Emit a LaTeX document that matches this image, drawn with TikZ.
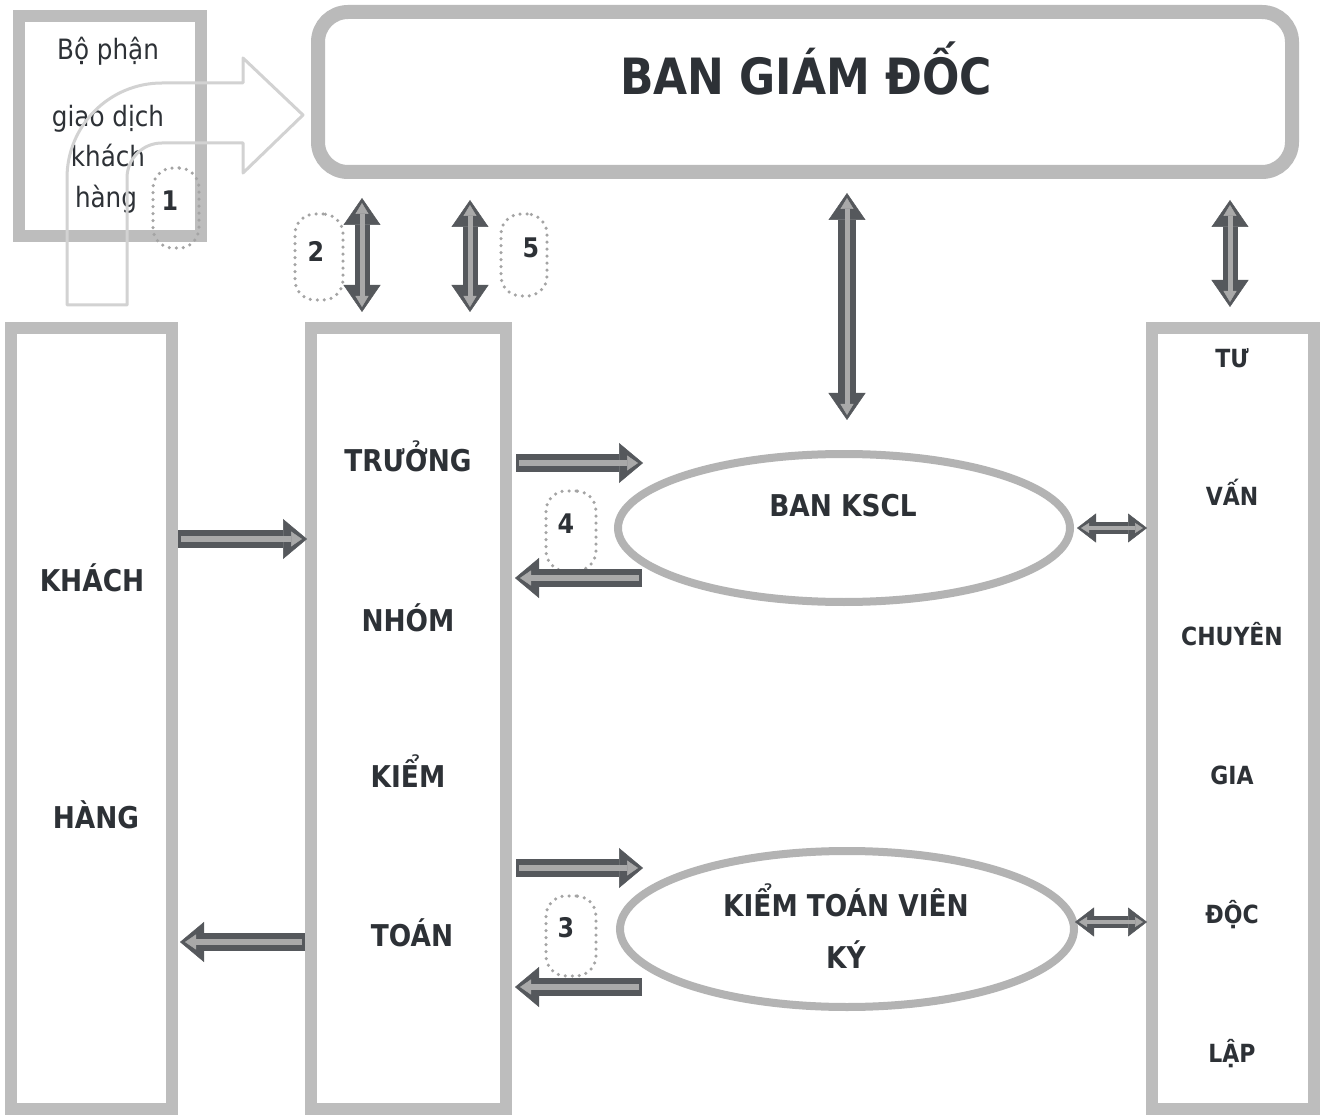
\documentclass[tikz,border=0pt]{standalone}
\usepackage{fontspec}
\setmainfont{DejaVu Sans}[FakeStretch=0.88]
\usetikzlibrary{arrows.meta,shapes.geometric}
\definecolor{boxgray}{HTML}{BDBDBD}
\definecolor{bgdgray}{HTML}{BABABA}
\definecolor{ellgray}{HTML}{B3B3B3}
\definecolor{adark}{HTML}{55585C}
\definecolor{alight}{HTML}{A9A9A9}
\definecolor{txt}{HTML}{2D3136}
\definecolor{dotgray}{HTML}{A4A4A4}
\definecolor{bentgray}{HTML}{D2D2D2}
\tikzset{
  frame/.style={rectangle, draw=boxgray, line width=12pt, inner sep=0pt},
  ell/.style={ellipse, draw=ellgray, line width=8pt, inner sep=0pt},
  lbl/.style={text=txt, font=\bfseries\fontsize{30}{36}\selectfont, anchor=base, inner sep=0pt},
  rlbl/.style={text=txt, font=\bfseries\fontsize{25}{30}\selectfont, anchor=base, inner sep=0pt},
  plain/.style={text=txt, font=\fontsize{28}{34}\selectfont, anchor=base, inner sep=0pt},
  num/.style={text=txt, font=\bfseries\fontsize{27}{32}\selectfont, inner sep=0pt},
  badge/.style={rectangle, draw=dotgray, line width=3.5pt, line cap=round, dash pattern=on 0pt off 7pt, rounded corners=20pt, inner sep=0pt},
  blk/.style={draw=adark, line width=18pt, -{Triangle[length=24pt,width=40pt,line width=0.5pt]},
    postaction={draw=alight, line width=6pt, shorten >=5pt, shorten <=3pt, -{Triangle[length=11pt,width=15pt,line width=0.5pt]}}},
  vblk/.style={draw=adark, line width=15pt, {Triangle[length=27pt,width=37pt,line width=0.5pt]}-{Triangle[length=27pt,width=37pt,line width=0.5pt]},
    postaction={draw=alight, line width=5pt, shorten >=5pt, shorten <=5pt, {Triangle[length=11pt,width=13pt,line width=0.5pt]}-{Triangle[length=11pt,width=13pt,line width=0.5pt]}}},
  hblk/.style={draw=adark, line width=12pt, {Triangle[length=19pt,width=29pt,line width=0.5pt]}-{Triangle[length=19pt,width=29pt,line width=0.5pt]},
    postaction={draw=alight, line width=4pt, shorten >=4pt, shorten <=4pt, {Triangle[length=8pt,width=10pt,line width=0.5pt]}-{Triangle[length=8pt,width=10pt,line width=0.5pt]}}},
  bent/.style={draw=bentgray, line width=3pt, line join=round}
}
\begin{document}
\begin{tikzpicture}[x=1pt,y=-1pt]
\useasboundingbox (0,0) rectangle (1326,1115);
\fill[white] (0,0) rectangle (1326,1115);

% boxes
\node[frame, minimum width=182pt, minimum height=220pt] (gd) at (110,126) {};
\node[frame, draw=bgdgray, line width=14pt, rounded corners=30pt, minimum width=974pt, minimum height=160pt] (bgd) at (805,92) {};
\node[frame, minimum width=161pt, minimum height=781pt] (kh) at (91.5,718.5) {};
\node[frame, minimum width=195pt, minimum height=781pt] (tn) at (408.5,718.5) {};
\node[frame, minimum width=162pt, minimum height=781pt] (tv) at (1233,718.5) {};
\node[ell, minimum width=452pt, minimum height=148pt] (kscl) at (844,528) {};
\node[ell, minimum width=454pt, minimum height=156pt] (ktv) at (847,929) {};

% texts
\node[plain] (g1) at (108,60) {Bộ phận};
\node[plain] (g2) at (108,127) {giao dịch};
\node[plain] (g3) at (108,167) {khách};
\node[plain] (g4) at (106,208) {hàng};
\node[lbl, font=\bfseries\fontsize{50}{60}\selectfont] (tbgd) at (806,95) {BAN GIÁM ĐỐC};
\node[lbl] (k1) at (92,591) {KHÁCH};
\node[lbl] (k2) at (96,828) {HÀNG};
\node[lbl] (n1) at (408,471) {TRƯỞNG};
\node[lbl] (n2) at (408,631) {NHÓM};
\node[lbl] (n3) at (408,787) {KIỂM};
\node[lbl] (n4) at (412,946) {TOÁN};
\node[lbl] (e1) at (843,516) {BAN KSCL};
\node[lbl] (e2) at (846,916) {KIỂM TOÁN VIÊN};
\node[lbl] (e3) at (846,968) {KÝ};
\node[rlbl] (r1) at (1232,367) {TƯ};
\node[rlbl] (r2) at (1232,505) {VẤN};
\node[rlbl] (r3) at (1232,645) {CHUYÊN};
\node[rlbl] (r4) at (1232,784) {GIA};
\node[rlbl] (r5) at (1232,923) {ĐỘC};
\node[rlbl] (r6) at (1232,1062) {LẬP};

% bent arrow
\draw[bent] (67,305) -- (67,178) .. controls (67,125.5) and (109.5,83) .. (162,83)
  -- (243,83) -- (243,58) -- (303,115) -- (243,173) -- (243,143) -- (162,143)
  .. controls (142.7,143) and (127,158.7) .. (127,178) -- (127,305) -- cycle;

% badges
\node[badge, minimum width=46pt, minimum height=80pt] (b1) at (176,208) {};
\node[num] (b1t) at (170,201) {1};
\node[badge, minimum width=48pt, minimum height=86pt] (b2) at (319,257) {};
\node[num] (b2t) at (316,251) {2};
\node[badge, minimum width=46pt, minimum height=82pt] (b5) at (524,255) {};
\node[num] (b5t) at (531,248) {5};
\node[badge, minimum width=50pt, minimum height=80pt] (b4) at (571,531) {};
\node[num] (b4t) at (566,524) {4};
\node[badge, minimum width=50pt, minimum height=80pt] (b3) at (571,936) {};
\node[num] (b3t) at (566,928) {3};

% coordinates for arrow ends
\coordinate (p1) at (643,463);
\coordinate (p2) at (642,578);
\coordinate (p3) at (643,868);
\coordinate (p4) at (642,987);

% single block arrows
\draw[blk] (kh.east |- 0,539) -- ([xshift=2pt]tn.west |- 0,539);
\draw[blk] (tn.west |- 0,942) -- ([xshift=2pt]kh.east |- 0,942);
\draw[blk] ([xshift=4pt]tn.east |- p1) -- (p1);
\draw[blk] (p2) -- ([xshift=3pt]tn.east |- p2);
\draw[blk] ([xshift=4pt]tn.east |- p3) -- (p3);
\draw[blk] (p4) -- ([xshift=3pt]tn.east |- p4);

% double block arrows
\draw[vblk] (362,198) -- (362,312);
\draw[vblk] (470,200) -- (470,312);
\draw[vblk, line width=18pt] (847,193) -- (847,420);
\draw[vblk] (1230,200) -- (1230,307);
\draw[hblk] ([xshift=3pt]kscl.east) -- ([xshift=1pt]tv.west |- kscl.east);
\draw[hblk] (1075,922) -- ([xshift=1pt]tv.west |- 0,922);
\end{tikzpicture}
\end{document}
